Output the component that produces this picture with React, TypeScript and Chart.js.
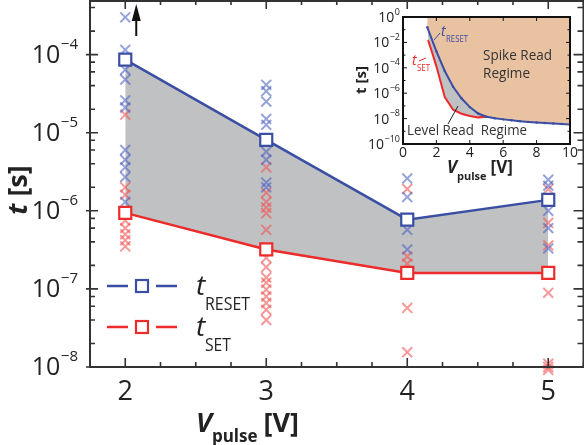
import React, { useEffect, useRef } from 'react';
import { Chart, registerables } from 'chart.js';
Chart.register(...registerables);

// ---------- main chart data ----------
const voltages = [2, 3, 4, 5];
const tResetMean = [8.6e-5, 8.1e-6, 7.7e-7, 1.38e-6];
const tSetMean = [9.4e-7, 3.2e-7, 1.6e-7, 1.6e-7];

const resetTrialsV2 = [3.0e-4, 1.15e-4, 6.4e-5, 4.8e-5, 2.6e-5, 2.1e-5, 6.0e-6, 4.5e-6, 3.6e-6, 2.7e-6, 1.3e-6];
const setTrialsV2 = [1.7e-5, 2.0e-6, 1.6e-6, 7.5e-7, 6.0e-7, 5.0e-7, 4.2e-7, 3.5e-7];
const resetTrialsV3 = [4.1e-5, 3.4e-5, 2.5e-5, 1.5e-5, 1.26e-5, 5.7e-6, 4.5e-6, 2.3e-6, 2.0e-6];
const setTrialsV3 = [3.6e-6, 1.7e-6, 1.3e-6, 1.1e-6, 9.3e-7, 5.7e-7, 2.5e-7, 1.9e-7, 1.4e-7, 1.2e-7, 9.8e-8, 8.0e-8, 6.6e-8, 5.4e-8, 4.0e-8];
const resetTrialsV4 = [2.6e-6, 1.5e-6, 5.7e-7, 3.2e-7];
const setTrialsV4 = [1.9e-6, 2.6e-7, 2.1e-7, 5.7e-8, 1.55e-8];
const resetTrialsV5 = [2.5e-6, 2.1e-6, 1.0e-6, 6.0e-7, 3.3e-7];
const setTrialsV5 = [1.9e-6, 7.0e-7, 3.6e-7, 8.9e-8, 1.1e-8, 1.0e-8, 9.2e-9];

const xTickValues = [2, 3, 4, 5];
const xTickLabels = ['2', '3', '4', '5'];
const yTickExps = [-8, -7, -6, -5, -4];

// ---------- inset data ----------
const insetResetV = [1.45, 2.0, 2.5, 3.0, 3.5, 4.0, 4.5, 5.0, 5.5, 6.0, 6.5, 7.0, 7.5, 8.0, 8.5, 9.0, 9.5, 10.0];
const insetResetT = [1.6e-1, 2e-3, 5.6e-5, 3.2e-6, 4e-7, 8e-8, 2.5e-8, 1.4e-8, 1.05e-8, 8.7e-9, 7.4e-9, 6.3e-9, 5.5e-9, 4.9e-9, 4.5e-9, 4.1e-9, 3.8e-9, 3.5e-9];
const insetSetV = [1.5, 1.75, 2.0, 2.5, 3.0, 3.5, 4.0, 4.5, 5.0];
const insetSetT = [1.5e-2, 1.5e-3, 1.3e-4, 5e-7, 5e-8, 2.4e-8, 1.6e-8, 1.25e-8, 1.4e-8];
const insetXTicks = [0, 2, 4, 6, 8, 10];
const insetYExps = [0, -2, -4, -6, -8, -10];

const FONT = '"Open Sans", "DejaVu Sans", sans-serif';
const BLUE = '#3a4ea3';
const RED = '#ee2b2b';
const BLUE_X = 'rgba(80, 100, 195, 0.6)';
const RED_X = 'rgba(242, 85, 85, 0.6)';
const GREY = '#bfc1c3';
const TAN = '#e9c2a2';
const AXIS = '#333';

const pts = (xs: number[] | number, ys: number[]) =>
  ys.map((y, i) => ({ x: Array.isArray(xs) ? xs[i] : xs, y }));

function fitText(ctx: CanvasRenderingContext2D, text: string, x: number, y: number, width: number) {
  const w = ctx.measureText(text).width;
  ctx.save();
  ctx.translate(x, y);
  ctx.scale(width / w, 1);
  ctx.fillText(text, 0, 0);
  ctx.restore();
}

function supText(ctx: CanvasRenderingContext2D, xRight: number, y: number, exp: number, base: number, sup: number, supLift: number) {
  const e = exp < 0 ? '\u2212' + Math.abs(exp) : String(exp);
  ctx.textBaseline = 'middle';
  ctx.font = `${sup}px ${FONT}`;
  ctx.textAlign = 'left';
  const ew = ctx.measureText(e).width;
  ctx.fillText(e, xRight - ew, y - supLift);
  ctx.font = `${base}px ${FONT}`;
  ctx.textAlign = 'right';
  ctx.fillText('10', xRight - ew - 0.5, y);
}

const mainDecor = {
  id: 'mainDecor',
  beforeDraw(chart: any) {
    const ctx = chart.ctx;
    ctx.save();
    ctx.fillStyle = '#fff';
    ctx.fillRect(0, 0, chart.width, chart.height);
    ctx.restore();
  },
  afterDraw(chart: any) {
    const ctx: CanvasRenderingContext2D = chart.ctx;
    const { left, right, top, bottom } = chart.chartArea;
    const xs = chart.scales.x;
    const ys = chart.scales.y;
    ctx.save();
    ctx.strokeStyle = AXIS;
    ctx.lineWidth = 2;
    ctx.strokeRect(left, top + 1, right - left, bottom - top - 1);
    ctx.lineWidth = 1.6;
    ctx.beginPath();
    // x ticks
    for (let v = 1.75; v <= 5.25 + 1e-9; v += 0.25) {
      const px = xs.getPixelForValue(v);
      const major = Math.abs(v - Math.round(v)) < 1e-6;
      const len = major ? 9 : 5;
      ctx.moveTo(px, bottom); ctx.lineTo(px, bottom - len);
      ctx.moveTo(px, top); ctx.lineTo(px, top + len);
    }
    // y ticks
    for (let e = -8; e <= -4; e++) {
      for (const m of [1, 2, 4, 6, 8]) {
        const val = m * Math.pow(10, e);
        if (val > 5e-4 || val < 1e-8) continue;
        const py = ys.getPixelForValue(val);
        if (m === 1) {
          ctx.moveTo(left - 4, py); ctx.lineTo(left + 8, py);
          ctx.moveTo(right, py); ctx.lineTo(right - 10, py);
        } else {
          ctx.moveTo(left, py); ctx.lineTo(left + 5, py);
          ctx.moveTo(right, py); ctx.lineTo(right - 6, py);
        }
      }
    }
    ctx.stroke();

    // tick labels
    ctx.fillStyle = '#222';
    yTickExps.forEach((e) => {
      const py = ys.getPixelForValue(Math.pow(10, e));
      supText(ctx, 78, py + 1, e, 25, 15, 11);
    });
    ctx.font = `27px ${FONT}`;
    ctx.textAlign = 'center';
    ctx.textBaseline = 'middle';
    xTickValues.forEach((v, i) => {
      ctx.fillText(xTickLabels[i], xs.getPixelForValue(v), 392);
    });

    // x title
    ctx.textAlign = 'left';
    ctx.textBaseline = 'alphabetic';
    let x = 196;
    ctx.font = `italic bold 27px ${FONT}`;
    ctx.fillText('V', x, 432);
    x += ctx.measureText('V').width;
    ctx.font = `bold 17px ${FONT}`;
    ctx.fillText('pulse', x, 442);
    x += ctx.measureText('pulse').width + 6;
    ctx.font = `bold 27px ${FONT}`;
    ctx.fillText('[V]', x, 432);

    // y title
    ctx.save();
    ctx.translate(27, 190);
    ctx.rotate(-Math.PI / 2);
    ctx.font = `italic bold 27px ${FONT}`;
    const tw = ctx.measureText('t ').width;
    ctx.font = `bold 27px ${FONT}`;
    const sw = ctx.measureText('[s]').width;
    let sx = -(tw + sw) / 2;
    ctx.font = `italic bold 27px ${FONT}`;
    ctx.fillText('t', sx, 0);
    sx += tw;
    ctx.font = `bold 27px ${FONT}`;
    ctx.fillText('[s]', sx, 0);
    ctx.restore();

    // legend
    const legend = [
      { color: BLUE, y: 286, sub: 'RESET', w: 45 },
      { color: RED, y: 327, sub: 'SET', w: 26 },
    ];
    legend.forEach((l) => {
      ctx.strokeStyle = l.color;
      ctx.lineWidth = 2.5;
      ctx.beginPath();
      ctx.moveTo(107, l.y); ctx.lineTo(128, l.y);
      ctx.moveTo(156, l.y); ctx.lineTo(177, l.y);
      ctx.stroke();
      ctx.fillStyle = '#fff';
      ctx.lineWidth = 2.2;
      ctx.fillRect(136, l.y - 6, 12, 12);
      ctx.strokeRect(136, l.y - 6, 12, 12);
      ctx.fillStyle = '#222';
      ctx.font = `italic 28px ${FONT}`;
      ctx.fillText('t', 196, l.y + 9);
      ctx.font = `18px ${FONT}`;
      fitText(ctx, l.sub, 205, l.y + 24, l.w);
    });

    // arrow at V=2
    const ax = xs.getPixelForValue(2) + 11;
    ctx.strokeStyle = '#111';
    ctx.fillStyle = '#111';
    ctx.lineWidth = 2;
    ctx.beginPath();
    ctx.moveTo(ax, 36); ctx.lineTo(ax, 16);
    ctx.stroke();
    ctx.beginPath();
    ctx.moveTo(ax, 4); ctx.lineTo(ax - 4.5, 21); ctx.lineTo(ax + 4.5, 21); ctx.closePath();
    ctx.fill();
    ctx.restore();
  },
};

const insetDecor = {
  id: 'insetDecor',
  beforeDraw(chart: any) {
    const ctx = chart.ctx;
    const { left, right, top, bottom } = chart.chartArea;
    ctx.save();
    ctx.fillStyle = '#fff';
    ctx.fillRect(left, top, right - left, bottom - top);
    ctx.restore();
  },
  afterDraw(chart: any) {
    const ctx: CanvasRenderingContext2D = chart.ctx;
    const { left, right, top, bottom } = chart.chartArea;
    const xs = chart.scales.x;
    const ys = chart.scales.y;
    ctx.save();
    // annotations
    ctx.lineWidth = 1;
    ctx.strokeStyle = BLUE;
    ctx.beginPath(); ctx.moveTo(440 - 340, 33); ctx.lineTo(434 - 340, 40); ctx.stroke();
    ctx.strokeStyle = RED;
    ctx.beginPath(); ctx.moveTo(419 - 340, 61); ctx.lineTo(426 - 340, 58); ctx.stroke();
    ctx.strokeStyle = '#222';
    ctx.beginPath(); ctx.moveTo(448 - 340, 124); ctx.lineTo(458 - 340, 106); ctx.stroke();

    ctx.textAlign = 'left';
    ctx.textBaseline = 'alphabetic';
    ctx.fillStyle = BLUE;
    ctx.font = `italic 14px ${FONT}`;
    ctx.fillText('t', 441 - 340, 36);
    ctx.font = `9px ${FONT}`;
    fitText(ctx, 'RESET', 446 - 340, 42, 22);
    ctx.fillStyle = RED;
    ctx.font = `italic 14px ${FONT}`;
    ctx.fillText('t', 412 - 340, 65);
    ctx.font = `9px ${FONT}`;
    fitText(ctx, 'SET', 417 - 340, 71, 13);
    ctx.fillStyle = '#333';
    ctx.font = `14px ${FONT}`;
    fitText(ctx, 'Spike Read', 483 - 340, 60, 69);
    fitText(ctx, 'Regime', 483 - 340, 78, 47);
    fitText(ctx, 'Level Read  Regime', 407 - 340, 135, 120);

    // frame
    ctx.strokeStyle = '#111';
    ctx.lineWidth = 2;
    ctx.strokeRect(left, top, right - left, bottom - top);
    ctx.lineWidth = 1;
    ctx.beginPath();
    insetXTicks.forEach((v) => {
      const px = xs.getPixelForValue(v);
      ctx.moveTo(px, bottom); ctx.lineTo(px, bottom - 4);
      ctx.moveTo(px, top); ctx.lineTo(px, top + 4);
    });
    for (let e = -10; e <= 0; e++) {
      const py = ys.getPixelForValue(Math.pow(10, e));
      const len = e % 2 === 0 ? 4 : 2.5;
      ctx.moveTo(left, py); ctx.lineTo(left + len, py);
      ctx.moveTo(right, py); ctx.lineTo(right - len, py);
    }
    ctx.stroke();

    // tick labels
    ctx.fillStyle = '#222';
    insetYExps.forEach((e) => {
      supText(ctx, 400 - 340, ys.getPixelForValue(Math.pow(10, e)) + 1, e, 14, 9, 6);
    });
    ctx.font = `14px ${FONT}`;
    ctx.textAlign = 'center';
    ctx.textBaseline = 'middle';
    insetXTicks.forEach((v) => {
      ctx.fillText(String(v), xs.getPixelForValue(v), 153);
    });
    // x title
    ctx.textAlign = 'left';
    ctx.textBaseline = 'alphabetic';
    let x = 447 - 340;
    ctx.font = `italic bold 17px ${FONT}`;
    ctx.fillText('V', x, 173);
    x += ctx.measureText('V').width;
    ctx.font = `bold 11px ${FONT}`;
    ctx.fillText('pulse', x, 180);
    x += ctx.measureText('pulse').width + 4;
    ctx.font = `bold 17px ${FONT}`;
    ctx.fillText('[V]', x, 173);
    // y title
    ctx.save();
    ctx.translate(366 - 340, 80);
    ctx.rotate(-Math.PI / 2);
    ctx.textAlign = 'center';
    ctx.font = `bold 15px ${FONT}`;
    ctx.fillText('t [s]', 0, 0);
    ctx.restore();
    ctx.restore();
  },
};

function mainConfig(): any {
  const cross = (data: any[], color: string) => ({
    data,
    showLine: false,
    pointStyle: 'crossRot',
    pointRadius: 7,
    pointBorderWidth: 2,
    borderColor: color,
    pointBorderColor: color,
    backgroundColor: color,
    fill: false,
    clip: false,
  });
  return {
    type: 'line',
    data: {
      datasets: [
        {
          label: 'tRESET',
          data: pts(voltages, tResetMean),
          borderColor: BLUE,
          borderWidth: 2.5,
          pointStyle: 'rect',
          pointRadius: 8.5,
          pointBorderWidth: 2.2,
          pointBorderColor: BLUE,
          pointBackgroundColor: '#fff',
          backgroundColor: GREY,
          fill: 1,
          tension: 0,
        },
        {
          label: 'tSET',
          data: pts(voltages, tSetMean),
          borderColor: RED,
          borderWidth: 2.5,
          pointStyle: 'rect',
          pointRadius: 8.5,
          pointBorderWidth: 2.2,
          pointBorderColor: RED,
          pointBackgroundColor: '#fff',
          fill: false,
          tension: 0,
        },
        cross(pts(2, resetTrialsV2), BLUE_X),
        cross(pts(3, resetTrialsV3), BLUE_X),
        cross(pts(4, resetTrialsV4), BLUE_X),
        cross(pts(5, resetTrialsV5), BLUE_X),
        cross(pts(2, setTrialsV2), RED_X),
        cross(pts(3, setTrialsV3), RED_X),
        cross(pts(4, setTrialsV4), RED_X),
        cross(pts(5, setTrialsV5), RED_X),
      ],
    },
    options: {
      animation: false,
      responsive: false,
      maintainAspectRatio: false,
      events: [],
      layout: { autoPadding: false, padding: { left: 90, right: 0.5, top: 0, bottom: 78 } },
      scales: {
        x: { type: 'linear', min: 1.75, max: 5.25, display: false },
        y: { type: 'logarithmic', min: 1e-8, max: 5e-4, display: false },
      },
      plugins: {
        legend: { display: false },
        tooltip: { enabled: false },
        filler: { drawTime: 'beforeDatasetsDraw' },
      },
    },
    plugins: [mainDecor],
  };
}

function insetConfig(): any {
  return {
    type: 'line',
    data: {
      datasets: [
        {
          label: 'tRESET',
          data: pts(insetResetV, insetResetT),
          borderColor: BLUE,
          borderWidth: 2,
          pointRadius: 1.2,
          pointBackgroundColor: BLUE,
          pointBorderWidth: 0,
          backgroundColor: TAN,
          fill: 'end',
          tension: 0,
        },
        {
          label: 'tSET',
          data: pts(insetSetV, insetSetT),
          borderColor: RED,
          borderWidth: 2,
          pointRadius: 0,
          backgroundColor: GREY,
          fill: 0,
          tension: 0,
        },
      ],
    },
    options: {
      animation: false,
      responsive: false,
      maintainAspectRatio: false,
      events: [],
      layout: { autoPadding: false, padding: { left: 63, right: 14, top: 17, bottom: 41 } },
      scales: {
        x: { type: 'linear', min: 0, max: 10, display: false },
        y: { type: 'logarithmic', min: 1e-10, max: 1, display: false },
      },
      plugins: {
        legend: { display: false },
        tooltip: { enabled: false },
        filler: { drawTime: 'beforeDatasetsDraw' },
      },
    },
    plugins: [insetDecor],
  };
}

export default function App() {
  const mainRef = useRef<HTMLCanvasElement>(null);
  const insetRef = useRef<HTMLCanvasElement>(null);
  useEffect(() => {
    const main = new Chart(mainRef.current as HTMLCanvasElement, mainConfig());
    const inset = new Chart(insetRef.current as HTMLCanvasElement, insetConfig());
    return () => {
      main.destroy();
      inset.destroy();
    };
  }, []);
  return (
    <div style={{ position: 'absolute', left: 0, top: 0, width: 584, height: 445, background: '#fff' }}>
      <canvas ref={mainRef} width={584} height={445} style={{ position: 'absolute', left: 0, top: 0 }} />
      <canvas ref={insetRef} width={244} height={185} style={{ position: 'absolute', left: 340, top: 0 }} />
    </div>
  );
}
